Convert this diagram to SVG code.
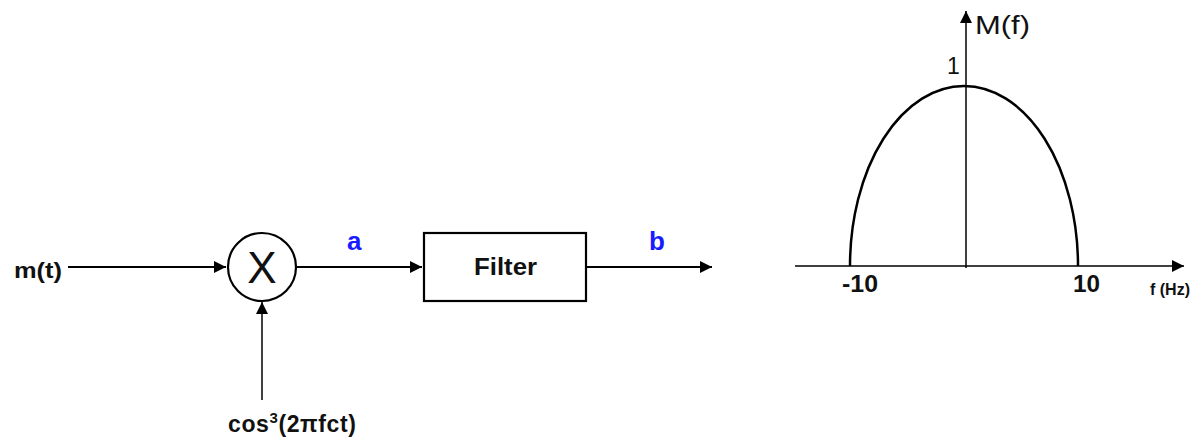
<svg xmlns="http://www.w3.org/2000/svg" width="1200" height="438" viewBox="0 0 1200 438">
  <style>
    .lbl { font-family: "Liberation Sans", Arial, sans-serif; font-weight: bold; fill: #111; }
    .sig { font-family: "Liberation Sans", Arial, sans-serif; font-weight: bold; fill: #1a1aff; font-size: 26px; }
    .plain { font-family: "Liberation Sans", Arial, sans-serif; fill: #111; }
    .wire { stroke: #000; stroke-width: 2.2; fill: none; }
    .thin { stroke: #000; stroke-width: 1.5; fill: none; }
  </style>
  <defs>
    <marker id="arrowL" viewBox="0 0 10 10" refX="10" refY="5" markerWidth="14" markerHeight="12" markerUnits="userSpaceOnUse" orient="auto">
      <path d="M0,0 L10,5 L0,10 z" fill="#000"/>
    </marker>
  </defs>

  <!-- block diagram connectors -->
  <g id="connectors">
    <line class="wire" x1="68" y1="267" x2="226" y2="267" marker-end="url(#arrowL)"/>
    <line class="wire" x1="296" y1="267" x2="422" y2="267" marker-end="url(#arrowL)"/>
    <line class="wire" x1="586" y1="267" x2="712" y2="267" marker-end="url(#arrowL)"/>
    <line class="thin" x1="262" y1="400" x2="262" y2="302" marker-end="url(#arrowL)"/>
  </g>

  <g id="input">
    <text class="lbl" x="14" y="278" font-size="22" textLength="48" lengthAdjust="spacingAndGlyphs">m(t)</text>
  </g>

  <g id="mixer">
    <circle cx="262" cy="267" r="34" fill="#fff" stroke="#000" stroke-width="2.2"/>
    <text class="plain" x="262" y="283" font-size="44" text-anchor="middle">X</text>
  </g>

  <g id="carrier">
    <text class="lbl" x="228" y="432" font-size="23" letter-spacing="0.6">cos<tspan font-size="15" dy="-9">3</tspan><tspan dy="9">(2πfct)</tspan></text>
  </g>

  <g id="signal-a">
    <text class="sig" x="347" y="250">a</text>
  </g>

  <g id="filter">
    <rect x="424" y="233" width="162" height="68" fill="#fff" stroke="#000" stroke-width="2.2"/>
    <text class="lbl" x="474" y="275" font-size="23" textLength="63" lengthAdjust="spacingAndGlyphs">Filter</text>
  </g>

  <g id="signal-b">
    <text class="sig" x="649" y="250">b</text>
  </g>

  <!-- spectrum M(f) -->
  <g id="spectrum">
    <line class="thin" x1="966" y1="268" x2="966" y2="11" marker-end="url(#arrowL)"/>
    <line class="thin" x1="795" y1="266" x2="1184" y2="266" marker-end="url(#arrowL)"/>
    <path d="M850,266 A114,180 0 0 1 1078,266" fill="none" stroke="#000" stroke-width="2.5"/>
    <text class="plain" x="975" y="34" font-size="25" textLength="55" lengthAdjust="spacingAndGlyphs">M(f)</text>
    <text class="plain" x="947" y="74" font-size="23">1</text>
    <text class="plain" x="842" y="292" font-size="23" font-weight="600" textLength="36" lengthAdjust="spacingAndGlyphs">-10</text>
    <text class="plain" x="1073" y="292" font-size="23" font-weight="600" textLength="27" lengthAdjust="spacingAndGlyphs">10</text>
    <text class="lbl" x="1150" y="295" font-size="16">f (Hz)</text>
  </g>
</svg>
